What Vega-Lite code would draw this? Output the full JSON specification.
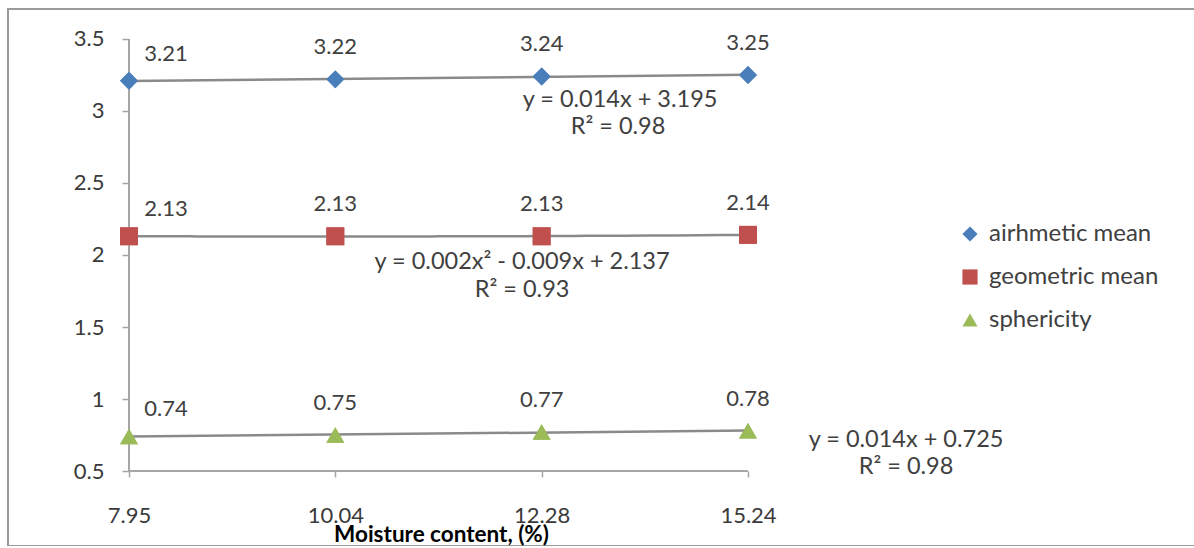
{
  "$schema": "https://vega.github.io/schema/vega-lite/v6.json",
  "width": 1190,
  "height": 537,
  "padding": {"left": 8, "top": 9, "right": 0, "bottom": 0},
  "autosize": {"type": "none"},
  "background": "white",
  "config": {
    "view": {"stroke": "#9a9a9a", "strokeWidth": 2},
    "font": "Lato",
    "axis": {"labelFont": "Lato", "labelFontSize": 22, "labelColor": "#3a3a3a", "tickColor": "#a6a6a6", "tickWidth": 1.5, "titleFont": "Lato"},
    "legend": {"labelFont": "Lato"}
  },
  "datasets": {
    "pts": [
      {"series": "airhmetic mean", "i": 0, "moisture": "7.95", "value": 3.21},
      {"series": "airhmetic mean", "i": 1, "moisture": "10.04", "value": 3.22},
      {"series": "airhmetic mean", "i": 2, "moisture": "12.28", "value": 3.24},
      {"series": "airhmetic mean", "i": 3, "moisture": "15.24", "value": 3.25},
      {"series": "geometric mean", "i": 0, "moisture": "7.95", "value": 2.13},
      {"series": "geometric mean", "i": 1, "moisture": "10.04", "value": 2.13},
      {"series": "geometric mean", "i": 2, "moisture": "12.28", "value": 2.13},
      {"series": "geometric mean", "i": 3, "moisture": "15.24", "value": 2.14},
      {"series": "sphericity", "i": 0, "moisture": "7.95", "value": 0.74},
      {"series": "sphericity", "i": 1, "moisture": "10.04", "value": 0.75},
      {"series": "sphericity", "i": 2, "moisture": "12.28", "value": 0.77},
      {"series": "sphericity", "i": 3, "moisture": "15.24", "value": 0.78}
    ],
    "eq": [
      {"t": "y = 0.014x + 3.195", "i": 2.38, "value": 3.076},
      {"t": "R² = 0.98", "i": 2.37, "value": 2.889},
      {"t": "y = 0.002x² - 0.009x + 2.137", "i": 1.905, "value": 1.951},
      {"t": "R² = 0.93", "i": 1.905, "value": 1.757},
      {"t": "y = 0.014x + 0.725", "i": 3.766, "value": 0.715},
      {"t": "R² = 0.98", "i": 3.766, "value": 0.528}
    ]
  },
  "data": {"name": "pts"},
  "layer": [
    {
      "mark": {"type": "point", "filled": true, "opacity": 1, "size": 320},
      "encoding": {
        "x": {"field": "i", "type": "quantitative", "scale": {"domain": [-0.58644, 5.18102], "nice": false, "zero": false},
          "axis": {"values": [0, 1, 2, 3], "labelExpr": "['7.95','10.04','12.28','15.24'][datum.value]", "offset": -75, "domain": false, "grid": false, "tickSize": 6, "labelPadding": 28, "title": "Moisture content,  (%)", "titleX": 433, "titleY": 63, "titleBaseline": "middle", "titleFontWeight": "bold", "titleFontSize": 22.5, "titleColor": "#000000"}},
        "y": {"field": "value", "type": "quantitative", "scale": {"domain": [-0.02083, 3.70833], "nice": false, "zero": false},
          "axis": {"values": [0.5, 1, 1.5, 2, 2.5, 3, 3.5], "labelExpr": "datum.value + ''", "offset": -121, "domain": false, "grid": false, "tickSize": 7, "labelPadding": 18, "title": null}},
        "color": {"field": "series", "type": "nominal",
          "scale": {"domain": ["airhmetic mean", "geometric mean", "sphericity"], "range": ["#4A7EBB", "#C0504D", "#9BBB59"]},
          "legend": {"title": null, "orient": "none", "legendX": 950, "legendY": 213, "symbolSize": 230, "labelFontSize": 24, "labelLimit": 400, "labelColor": "#404040", "rowPadding": 19, "labelOffset": 7, "symbolStrokeWidth": 0}},
        "shape": {"field": "series", "type": "nominal",
          "scale": {"domain": ["airhmetic mean", "geometric mean", "sphericity"], "range": ["diamond", "square", "triangle-up"]},
          "legend": {"title": null, "orient": "none", "legendX": 950, "legendY": 213, "symbolSize": 230, "labelFontSize": 24, "labelLimit": 400, "labelColor": "#404040", "rowPadding": 19, "labelOffset": 7, "symbolStrokeWidth": 0}}
      }
    },
    {
      "data": {"values": [{}]},
      "mark": {"type": "rule", "color": "#a6a6a6", "strokeWidth": 2},
      "encoding": {
        "x": {"datum": 0, "type": "quantitative"},
        "y": {"datum": 0.5, "type": "quantitative"},
        "y2": {"datum": 3.5}
      }
    },
    {
      "data": {"values": [{}]},
      "mark": {"type": "rule", "color": "#a6a6a6", "strokeWidth": 2},
      "encoding": {
        "x": {"datum": 0, "type": "quantitative"},
        "x2": {"datum": 3},
        "y": {"datum": 0.5, "type": "quantitative"}
      }
    },
    {
      "transform": [
        {"filter": "datum.series != 'geometric mean'"},
        {"regression": "value", "on": "i", "groupby": ["series"], "method": "linear"}
      ],
      "mark": {"type": "line", "color": "#8a8a8a", "strokeWidth": 2.5},
      "encoding": {
        "x": {"field": "i", "type": "quantitative"},
        "y": {"field": "value", "type": "quantitative"},
        "detail": {"field": "series"}
      }
    },
    {
      "transform": [
        {"filter": "datum.series == 'geometric mean'"},
        {"regression": "value", "on": "i", "method": "poly", "order": 2}
      ],
      "mark": {"type": "line", "color": "#8a8a8a", "strokeWidth": 2.5},
      "encoding": {
        "x": {"field": "i", "type": "quantitative"},
        "y": {"field": "value", "type": "quantitative"}
      }
    },
    {
      "mark": {"type": "point", "filled": true, "opacity": 1, "size": 320},
      "encoding": {
        "x": {"field": "i", "type": "quantitative"},
        "y": {"field": "value", "type": "quantitative"},
        "color": {"field": "series", "type": "nominal"},
        "shape": {"field": "series", "type": "nominal"}
      }
    },
    {
      "transform": [{"filter": "datum.i > 0"}],
      "mark": {"type": "text", "fontSize": 22, "color": "#404040", "align": "center", "baseline": "middle", "dy": -32},
      "encoding": {
        "x": {"field": "i", "type": "quantitative"},
        "y": {"field": "value", "type": "quantitative"},
        "text": {"field": "value", "type": "quantitative", "format": ".2f"}
      }
    },
    {
      "transform": [{"filter": "datum.i == 0"}],
      "mark": {"type": "text", "fontSize": 22, "color": "#404040", "align": "center", "baseline": "middle", "dx": 37, "dy": -27},
      "encoding": {
        "x": {"field": "i", "type": "quantitative"},
        "y": {"field": "value", "type": "quantitative"},
        "text": {"field": "value", "type": "quantitative", "format": ".2f"}
      }
    },
    {
      "data": {"name": "eq"},
      "mark": {"type": "text", "fontSize": 23.5, "color": "#404040", "align": "center", "baseline": "middle"},
      "encoding": {
        "x": {"field": "i", "type": "quantitative"},
        "y": {"field": "value", "type": "quantitative"},
        "text": {"field": "t", "type": "nominal"}
      }
    }
  ]
}
